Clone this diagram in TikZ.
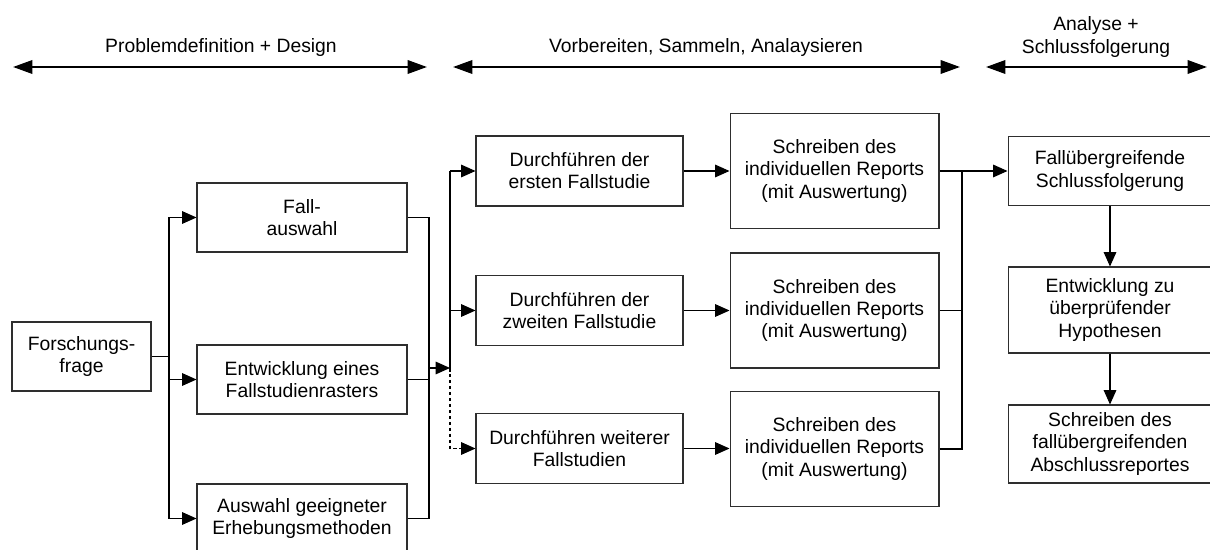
\documentclass[tikz,border=0pt]{standalone}
\usepackage{fontspec}
\setmainfont{Liberation Sans}
\usepackage{xcolor}
\usetikzlibrary{calc,arrows.meta}
\definecolor{ink}{HTML}{000000}
\definecolor{frame}{HTML}{2E2E2E}
\tikzset{
  box/.style 2 args={draw=frame, line width=0.6pt, align=center, inner sep=0pt,
    minimum width=#1, minimum height=#2, font=\fontsize{11}{12.6}\selectfont},
  link/.style={draw=ink, line width=0.6pt},
  flow/.style={link, -{Triangle[length=8.2pt,width=7.2pt]}},
  span/.style={draw=ink, line width=1.3pt,
    {Triangle[length=11pt,width=7.6pt]}-{Triangle[length=11pt,width=7.6pt]}},
  lab/.style={align=center, inner sep=0pt, font=\fontsize{11}{13}\selectfont},
}

\begin{document}
\begin{tikzpicture}[x=0.02cm, y=-0.02cm]
  \clip (0,0) rectangle (1210,550);

  % phases
  \coordinate (p1a) at (13,67);
  \coordinate (p1b) at (427,67);
  \coordinate (p2a) at (453,67);
  \coordinate (p2b) at (960,67);
  \coordinate (p3a) at (986,67);
  \coordinate (p3b) at (1207,67);
  \draw[span] (p1a) -- (p1b);
  \draw[span] (p2a) -- (p2b);
  \draw[span] (p3a) -- (p3b);
  \node[lab] (ph1) at (221,48) {Problemdefinition + Design};
  \node[lab] (ph2) at (706,48) {Vorbereiten, Sammeln, Analaysieren};
  \node[lab] (ph3) at (1096,37) {Analyse +\\Schlussfolgerung};

  % boxes
  \node[box={2.78cm}{1.38cm}] (frage) at (81.5,356.5) {Forschungs-\\frage};
  \node[box={4.2cm}{1.38cm}] (fall) at (302,217.5) {Fall-\\auswahl};
  \node[box={4.2cm}{1.38cm}] (raster) at (302,379.5) {Entwicklung eines\\Fallstudienrasters};
  \node[box={4.2cm}{1.38cm}] (meth) at (302,518.5) {Auswahl geeigneter\\Erhebungsmethoden};

  \node[box={4.14cm}{1.4cm}] (erste) at (579.5,171) {Durchführen der\\ersten Fallstudie};
  \node[box={4.14cm}{1.4cm}] (zweite) at (579.5,310.5) {Durchführen der\\zweiten Fallstudie};
  \node[box={4.14cm}{1.4cm}] (weitere) at (579.5,448.5) {Durchführen weiterer\\Fallstudien};

  \node[box={4.18cm}{2.3cm}] (rep1) at (834.5,171) {Schreiben des\\individuellen Reports\\(mit Auswertung)};
  \node[box={4.18cm}{2.3cm}] (rep2) at (834.5,310.5) {Schreiben des\\individuellen Reports\\(mit Auswertung)};
  \node[box={4.18cm}{2.3cm}] (rep3) at (834.5,449) {Schreiben des\\individuellen Reports\\(mit Auswertung)};

  \node[box={4.08cm}{1.38cm}] (schluss) at (1110,171) {Fallübergreifende\\Schlussfolgerung};
  \node[box={4.08cm}{1.72cm}] (hypo) at (1110,310) {Entwicklung zu\\überprüfender\\Hypothesen};
  \node[box={4.08cm}{1.56cm}] (absch) at (1110,444) {Schreiben des\\fallübergreifenden\\Abschlussreportes};

  % left fan-out
  \coordinate (tl) at (169,356.5);
  \draw[link] (frage.east) -- (tl);
  \draw[link] (tl |- fall.west) -- (tl |- meth.west);
  \draw[flow] (tl |- fall.west) -- (fall.west);
  \draw[flow] (tl |- raster.west) -- (raster.west);
  \draw[flow] (tl |- meth.west) -- (meth.west);

  % merge and split
  \coordinate (jm) at (429,368);
  \coordinate (jr) at (450,368);
  \draw[link] (fall.east) -| (jm |- meth.east) -- (meth.east);
  \draw[link] (raster.east) -- (jm |- raster.east);
  \draw[flow] (jm) -- (jr);
  \draw[link] (jr |- erste.west) -- (jr);
  \draw[flow] (jr |- erste.west) -- (erste.west);
  \draw[flow] (jr |- zweite.west) -- (zweite.west);
  \draw[flow, dash pattern=on 2pt off 1.4pt] (jr) |- (weitere.west);

  % cases to reports
  \draw[flow] (erste.east) -- (rep1.west);
  \draw[flow] (zweite.east) -- (rep2.west);
  \draw[flow] (weitere.east) -- (rep3.west |- weitere.east);

  % reports to cross-case analysis
  \coordinate (jx) at (962,171);
  \draw[link] (rep3.east) -| (jx);
  \draw[link] (rep2.east) -- (jx |- rep2.east);
  \draw[flow] (rep1.east) -- (schluss.west);
  \draw[flow] (schluss.south) -- (hypo.north);
  \draw[flow] (hypo.south) -- (absch.north);
\end{tikzpicture}
\end{document}
